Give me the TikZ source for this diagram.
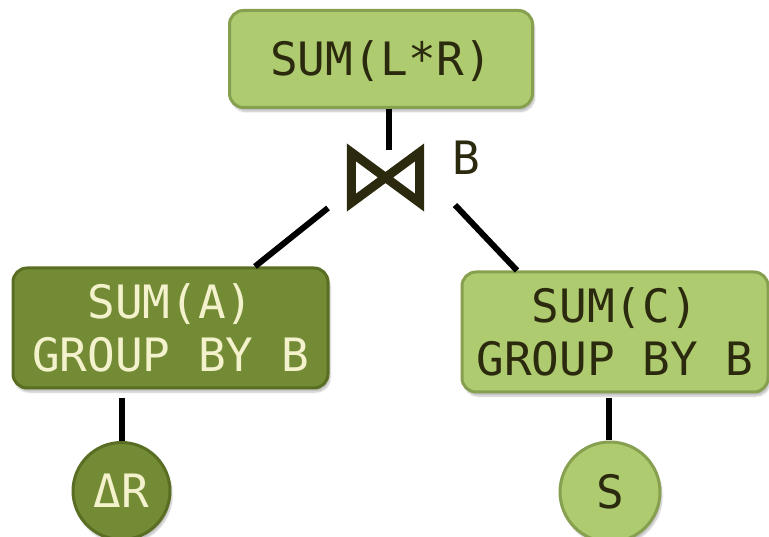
\documentclass[tikz,border=0pt]{standalone}
\usepackage{fontspec}
\newfontfamily\dmono{DejaVu Sans Mono}
\usetikzlibrary{shadows.blur}
\definecolor{lfill}{HTML}{AECB70}
\definecolor{ldraw}{HTML}{87A050}
\definecolor{dfill}{HTML}{738B35}
\definecolor{ddraw}{HTML}{5A6E23}
\definecolor{dtext}{HTML}{2B2A0E}
\definecolor{ctext}{HTML}{F4F2CC}
\tikzset{
  opbox/.style={rounded corners=14pt, line width=3pt, inner sep=0pt, align=center,
    font=\dmono\fontsize{46}{53}\selectfont,
    blur shadow={shadow blur steps=6, shadow xshift=2pt, shadow yshift=-4pt, shadow opacity=25}},
  lightbox/.style={opbox, fill=lfill, draw=ldraw, text=dtext},
  darkbox/.style={opbox, fill=dfill, draw=ddraw, text=ctext},
  relnode/.style={circle, line width=3pt, inner sep=0pt, text height=33pt, text depth=0pt,
    font=\dmono\fontsize{46}{53}\selectfont,
    blur shadow={shadow blur steps=6, shadow xshift=2pt, shadow yshift=-4pt, shadow opacity=25}},
  conn/.style={line width=6pt, black},
}
\begin{document}
\begin{tikzpicture}[x=1pt, y=-1pt]
\useasboundingbox (0,0) rectangle (769,537);
% top aggregate
\node[lightbox, minimum width=303pt, minimum height=97pt, text height=33pt, text depth=0pt] (top) at (381,59) {SUM(L*R)};
% join
\node[minimum width=77pt, minimum height=59pt, inner sep=0pt] (join) at (385.5,177.5) {};
\draw[dtext, line width=9pt, line join=miter, miter limit=10]
  ([xshift=4.5pt,yshift=-4.5pt]join.north west) -- ([xshift=4.5pt,yshift=4.5pt]join.south west)
  -- ([xshift=-4.5pt,yshift=-4.5pt]join.north east) -- ([xshift=-4.5pt,yshift=4.5pt]join.south east) -- cycle;
\node[font=\dmono\fontsize{46}{53}\selectfont, text=dtext, text height=33pt, text depth=0pt, inner sep=0pt] (blab) at (466.5,158) {B};
% lower aggregates
\node[darkbox, minimum width=315pt, minimum height=120pt] (lagg) at (170.5,328) {SUM(A)\\GROUP BY B};
\node[lightbox, minimum width=306pt, minimum height=120pt] (ragg) at (615,332) {SUM(C)\\GROUP BY B};
% relations
\node[relnode, fill=dfill, draw=ddraw, text=ctext, minimum size=97pt] (dr) at (121.5,491) {ΔR};
\node[relnode, fill=lfill, draw=ldraw, text=dtext, minimum size=100pt] (s) at (610,492) {S};
% connectors
\coordinate (topc) at (389,150);
\draw[conn] (top.south -| topc) -- (topc);
\coordinate (jl) at (328,208);
\coordinate (jr) at (455,205);
\draw[conn] (jl) -- (lagg.north -| 255,0);
\draw[conn] (jr) -- (ragg.north -| 517,0);
\coordinate (lbot) at (121.5,398);
\coordinate (rbot) at (609,398);
\draw[conn] (lbot) -- (dr.north -| lbot);
\draw[conn] (rbot) -- (s.north -| rbot);
\end{tikzpicture}
\end{document}
